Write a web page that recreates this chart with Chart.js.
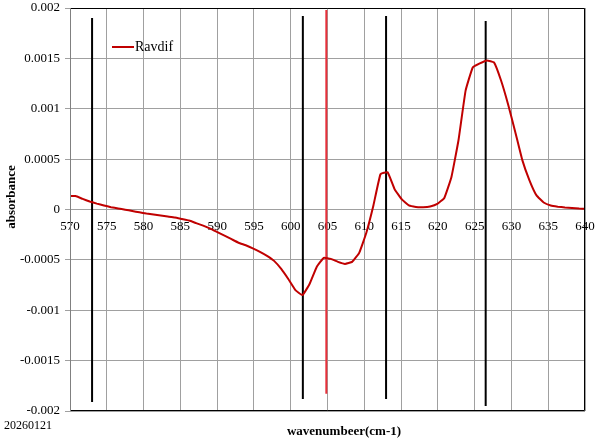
<!DOCTYPE html>
<html>
<head>
<meta charset="utf-8">
<script src="https://cdn.jsdelivr.net/npm/chart.js@4.4.1/dist/chart.umd.min.js"></script>
<style>
  html, body { margin: 0; padding: 0; background: #fff; }
  canvas { display: block; }
</style>
</head>
<body>
<canvas id="chart" width="601" height="442"></canvas>
<script>
// --- DATA ---
const wavenumbers = [
  569.79, 570.75, 571.72, 572.68, 573.64, 574.61, 575.57, 576.54, 577.50, 578.46,
  579.43, 580.39, 581.36, 582.32, 583.28, 584.25, 585.21, 586.18, 587.14, 588.10,
  589.07, 590.03, 591.00, 591.96, 592.92, 593.89, 594.85, 595.82, 596.78, 597.74,
  598.71, 599.67, 600.64, 601.60, 602.56, 603.53, 604.49, 605.46, 606.42, 607.38,
  608.35, 609.31, 610.28, 611.24, 612.20, 613.17, 614.13, 615.10, 616.06, 617.02,
  617.99, 618.95, 619.92, 620.88, 621.84, 622.81, 623.77, 624.74, 625.70, 626.66,
  627.63, 628.59, 629.56, 630.52, 631.48, 632.45, 633.41, 634.38, 635.34, 636.30,
  637.27, 638.23, 639.20, 640.16
];
const ravdif = [
  0.000133, 0.000133, 0.000105, 0.00008, 0.000058, 0.00004, 0.000023, 0.00001, -0.000002, -0.000015,
  -0.000028, -0.00004, -0.00005, -0.00006, -0.00007, -0.00008, -0.000095, -0.00011, -0.000135, -0.00016,
  -0.00019, -0.000225, -0.00026, -0.000295, -0.00033, -0.000355, -0.000385, -0.00042, -0.00046, -0.00051,
  -0.00059, -0.00069, -0.0008, -0.00085, -0.00074, -0.00057, -0.00048, -0.00049, -0.00052, -0.00054,
  -0.00052, -0.00043, -0.00023, 0.00004, 0.00035, 0.00037, 0.0002, 0.0001, 0.00004, 0.000025,
  0.000023, 0.00003, 0.000055, 0.000115, 0.00032, 0.00069, 0.00118, 0.00141, 0.00145, 0.00148,
  0.00146, 0.00128, 0.00104, 0.00077, 0.00049, 0.00029, 0.00014, 0.00007, 0.00004, 0.000028,
  0.00002, 0.000015, 0.00001, 0.000007
];

// vertical marker lines
const markerX = [573, 601.65, 604.84, 612.96, 626.5];
const markerTop = [0.0019, 0.00192, 0.00198, 0.00192, 0.00187];
const markerBottom = [-0.00191, -0.00188, -0.00183, -0.00188, -0.00195];

const yTicks = [-0.002, -0.0015, -0.001, -0.0005, 0, 0.0005, 0.001, 0.0015, 0.002];
const xTicks = [570, 575, 580, 585, 590, 595, 600, 605, 610, 615, 620, 625, 630, 635, 640];

const seriesName = 'Ravdif';
const xTitle = 'wavenumbeer(cm-1)';
const yTitle = 'absorbance';
const dateStamp = '20260121';

// --- STYLE ---
const curveColor = '#c00000';
const gridColor = '#a0a0a0';
const serif = '"Liberation Serif", "Times New Roman", serif';

const datasets = [{
  label: seriesName,
  data: wavenumbers.map((x, i) => ({ x: x, y: ravdif[i] })),
  borderColor: curveColor,
  borderWidth: 2,
  pointRadius: 0,
  tension: 0.1,
  fill: false
}];

markerX.forEach((x, i) => {
  datasets.push({
    label: 'marker' + i,
    data: [{ x: x, y: markerBottom[i] }, { x: x, y: markerTop[i] }],
    borderColor: i === 2 ? '#e8303a' : '#000000',
    borderWidth: 2,
    pointRadius: 0,
    fill: false
  });
});

// frame, titles and legend
const decorations = {
  id: 'decorations',
  afterDraw(chart) {
    const ctx = chart.ctx;
    const a = chart.chartArea;
    ctx.save();
    // plot border
    ctx.lineWidth = 1;
    ctx.strokeStyle = '#000';
    ctx.beginPath();
    ctx.moveTo(a.left, a.top + 0.5);
    ctx.lineTo(a.right - 0.5, a.top + 0.5);
    ctx.lineTo(a.right - 0.5, a.bottom - 0.5);
    ctx.lineTo(a.left, a.bottom - 0.5);
    ctx.stroke();
    ctx.strokeStyle = '#808080';
    ctx.beginPath();
    ctx.moveTo(a.left + 0.5, a.top);
    ctx.lineTo(a.left + 0.5, a.bottom);
    ctx.stroke();

    // legend
    ctx.strokeStyle = curveColor;
    ctx.lineWidth = 2;
    ctx.beginPath();
    ctx.moveTo(112, 47);
    ctx.lineTo(134, 47);
    ctx.stroke();
    ctx.fillStyle = '#000';
    ctx.font = '14px ' + serif;
    ctx.textAlign = 'left';
    ctx.textBaseline = 'middle';
    ctx.fillText(seriesName, 135, 47);

    // axis titles
    ctx.font = 'bold 13px ' + serif;
    ctx.textAlign = 'center';
    ctx.fillText(xTitle, 344, 432);
    ctx.save();
    ctx.translate(12, 197);
    ctx.rotate(-Math.PI / 2);
    ctx.fillText(yTitle, 0, 0);
    ctx.restore();

    // date stamp
    ctx.font = '12px ' + serif;
    ctx.textAlign = 'left';
    ctx.fillText(dateStamp, 4, 426);
    ctx.restore();
  }
};

new Chart(document.getElementById('chart'), {
  type: 'line',
  data: { datasets: datasets },
  plugins: [decorations],
  options: {
    responsive: false,
    animation: false,
    layout: { padding: { left: 0, top: 8, right: 16, bottom: 31 } },
    plugins: {
      legend: { display: false },
      tooltip: { enabled: false }
    },
    scales: {
      x: {
        type: 'linear',
        position: { y: 0 },
        min: 570,
        max: 640,
        afterBuildTicks: s => { s.ticks = xTicks.map(v => ({ value: v })); },
        afterFit: s => { s.paddingLeft = 0; s.paddingRight = 0; },
        ticks: {
          color: '#000',
          font: { family: serif, size: 13 },
          padding: 9,
          maxRotation: 0,
          autoSkip: false
        },
        grid: { color: gridColor, lineWidth: 1, drawTicks: false },
        border: { color: gridColor }
      },
      y: {
        type: 'linear',
        min: -0.002,
        max: 0.002,
        afterBuildTicks: s => { s.ticks = yTicks.map(v => ({ value: v })); },
        afterFit: s => { s.width = 70; s.paddingTop = 0; s.paddingBottom = 0; },
        ticks: {
          color: '#000',
          font: { family: serif, size: 13 },
          padding: 5,
          callback: v => String(Math.round(v * 1e4) / 1e4)
        },
        grid: { color: gridColor, lineWidth: 1, tickLength: 5 },
        border: { color: gridColor }
      }
    }
  }
});
</script>
</body>
</html>
